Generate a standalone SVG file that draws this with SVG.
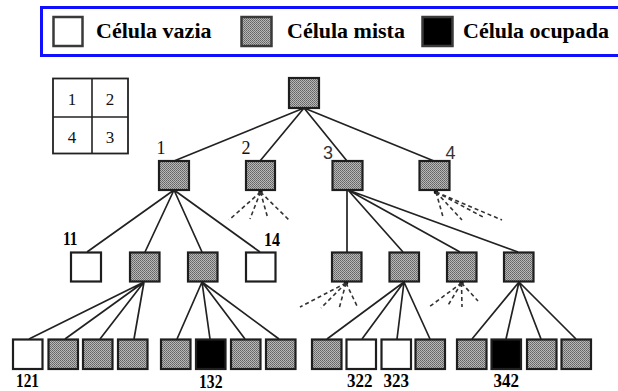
<svg xmlns="http://www.w3.org/2000/svg" width="618" height="391" viewBox="0 0 618 391">
<defs>
<pattern id="stip" width="2" height="2" patternUnits="userSpaceOnUse">
<rect width="2" height="2" fill="#b8b8b8"/>
<rect width="1" height="1" fill="#646464"/>
<rect x="1" y="1" width="1" height="1" fill="#747474"/>
</pattern>
</defs>
<style>
.box{stroke:#1e1e1e;stroke-width:2.2}
.e{fill:#fff}
.m{fill:url(#stip)}
.o{fill:#000}
.edge{stroke:#222;stroke-width:1.7;fill:none}
.dash{stroke:#333;stroke-width:1.6;stroke-dasharray:4 3;fill:none}
.dot{fill:#111}
.leg{font-family:"Liberation Serif",serif;font-weight:bold;font-size:22px;fill:#000}
.lbl{font-family:"Liberation Serif",serif;font-weight:bold;font-size:19px;fill:#000}
.qd{font-family:"Liberation Serif",serif;font-size:17px;fill:#111;text-anchor:middle}
.sn{font-family:"Liberation Sans",sans-serif;font-size:18px;fill:#333;text-anchor:middle}
.lbox{stroke:#3a3a3a;stroke-width:2.5}
</style>
<rect width="618" height="391" fill="#fff"/>

<g id="legend">
<rect x="41.5" y="7.5" width="580" height="48" fill="#fff" stroke="#1010ff" stroke-width="3"/>
<rect class="lbox e" x="53.5" y="17" width="29" height="29"/>
<text class="leg" x="96" y="38">Célula vazia</text>
<rect class="lbox m" x="241.5" y="17" width="30" height="29"/>
<text class="leg" x="287" y="38">Célula mista</text>
<rect class="lbox o" x="422.5" y="17" width="30" height="29"/>
<text class="leg" x="463" y="38">Célula ocupada</text>
</g>

<g id="quadrant-key">
<rect x="53" y="78.5" width="75" height="75" fill="#fff" stroke="#222" stroke-width="1.8"/>
<line x1="92" y1="78.5" x2="92" y2="153.5" stroke="#222" stroke-width="1.6"/>
<line x1="53" y1="117" x2="128" y2="117" stroke="#222" stroke-width="1.6"/>
<text class="qd" x="72" y="105">1</text>
<text class="qd" x="110" y="105">2</text>
<text class="qd" x="72" y="143">4</text>
<text class="qd" x="110" y="143">3</text>
</g>

<g id="connectors">
<path class="edge" d="M304,108 L174,161 M304,108 L260,161 M304,108 L347,161 M304,108 L434,161"/>
<path class="edge" d="M174,190 L87,252 M174,190 L145,252 M174,190 L202,252 M174,190 L260,252"/>
<path class="edge" d="M347,190 L347,252 M348,190 L403,252 M348,190 L460,252 M348,190 L518,252"/>
<path class="edge" d="M144,282 L29,339 M144,282 L65,339 M144,282 L100,339 M144,282 L134,339"/>
<path class="edge" d="M202,282 L177,339 M202,282 L210,339 M202,282 L245,339 M202,282 L279,339"/>
<path class="edge" d="M404,282 L327,339 M404,282 L362,339 M404,282 L397,339 M404,282 L430,339"/>
<path class="edge" d="M519,282 L472,339 M519,282 L506,339 M519,282 L541,339 M519,282 L576,339"/>
<g id="dashed-fans">
<circle class="dot" cx="260.5" cy="192" r="2.3"/>
<path class="dash" d="M260.5,192 L229,220 M260.5,192 L250,219 M260.5,192 L268,219 M260.5,192 L289,220"/>
<circle class="dot" cx="436" cy="192" r="2.3"/>
<path class="dash" d="M436,192 L443,217 M436,192 L462,220 M436,192 L483,217 M436,192 L502,220"/>
<circle class="dot" cx="346" cy="283" r="2.3"/>
<path class="dash" d="M346,283 L300,307 M346,283 L321,308 M346,283 L339,309 M346,283 L358,308"/>
<circle class="dot" cx="461.5" cy="283" r="2.3"/>
<path class="dash" d="M461.5,283 L429,307 M461.5,283 L447,307 M461.5,283 L462,307 M461.5,283 L478,301"/>
</g>
</g>

<g id="n-root"><rect class="box m" x="289" y="78" width="30" height="30"/></g>
<g id="n1"><rect class="box m" x="159" y="161" width="30" height="29"/><text class="qd" style="font-size:18px" x="161" y="154">1</text></g>
<g id="n2"><rect class="box m" x="246" y="161" width="29" height="29"/><text class="qd" style="font-size:18px" x="246" y="154">2</text></g>
<g id="n3"><rect class="box m" x="332.5" y="161" width="30" height="29"/><text class="sn" x="328" y="159">3</text></g>
<g id="n4"><rect class="box m" x="419.5" y="161" width="30" height="29"/><text class="sn" x="450.5" y="159">4</text></g>

<g id="n11"><rect class="box e" x="71" y="252.5" width="30" height="29"/><text class="lbl" x="63" y="245" textLength="14.5" lengthAdjust="spacingAndGlyphs">11</text></g>
<g id="n12"><rect class="box m" x="130" y="252.5" width="29.5" height="29"/></g>
<g id="n13"><rect class="box m" x="188" y="252.5" width="29.5" height="29"/></g>
<g id="n14"><rect class="box e" x="246" y="252.5" width="29.5" height="29"/><text class="lbl" x="264" y="246" textLength="16" lengthAdjust="spacingAndGlyphs">14</text></g>
<g id="n31"><rect class="box m" x="332" y="252.5" width="29.5" height="29"/></g>
<g id="n32"><rect class="box m" x="389.5" y="252.5" width="29.5" height="29"/></g>
<g id="n33"><rect class="box m" x="447" y="252.5" width="29.5" height="29"/></g>
<g id="n34"><rect class="box m" x="504" y="252.5" width="29.5" height="29"/></g>

<g id="n121"><rect class="box e" x="13" y="339.5" width="29.5" height="29.5"/><text class="lbl" x="16" y="387" textLength="23" lengthAdjust="spacingAndGlyphs">121</text></g>
<g id="n122"><rect class="box m" x="48.5" y="339.5" width="29.5" height="29.5"/></g>
<g id="n123"><rect class="box m" x="83" y="339.5" width="29.5" height="29.5"/></g>
<g id="n124"><rect class="box m" x="118" y="339.5" width="29.5" height="29.5"/></g>
<g id="n131"><rect class="box m" x="161" y="339.5" width="29.5" height="29.5"/></g>
<g id="n132"><rect class="box o" x="196" y="339.5" width="29.5" height="29.5"/><text class="lbl" x="199" y="388" textLength="23.5" lengthAdjust="spacingAndGlyphs">132</text></g>
<g id="n133"><rect class="box m" x="231" y="339.5" width="29.5" height="29.5"/></g>
<g id="n134"><rect class="box m" x="266" y="339.5" width="29.5" height="29.5"/></g>
<g id="n321"><rect class="box m" x="312" y="339.5" width="29.5" height="29.5"/></g>
<g id="n322"><rect class="box e" x="346.5" y="339.5" width="29.5" height="29.5"/><text class="lbl" x="347" y="387" textLength="25.5" lengthAdjust="spacingAndGlyphs">322</text></g>
<g id="n323"><rect class="box e" x="381.5" y="339.5" width="29.5" height="29.5"/><text class="lbl" x="383.5" y="387" textLength="25.5" lengthAdjust="spacingAndGlyphs">323</text></g>
<g id="n324"><rect class="box m" x="415.5" y="339.5" width="29.5" height="29.5"/></g>
<g id="n341"><rect class="box m" x="457" y="339.5" width="29.5" height="29.5"/></g>
<g id="n342"><rect class="box o" x="491.5" y="339.5" width="29.5" height="29.5"/><text class="lbl" x="493.5" y="387" textLength="25.5" lengthAdjust="spacingAndGlyphs">342</text></g>
<g id="n343"><rect class="box m" x="527" y="339.5" width="29.5" height="29.5"/></g>
<g id="n344"><rect class="box m" x="561.5" y="339.5" width="29.5" height="29.5"/></g>
</svg>
